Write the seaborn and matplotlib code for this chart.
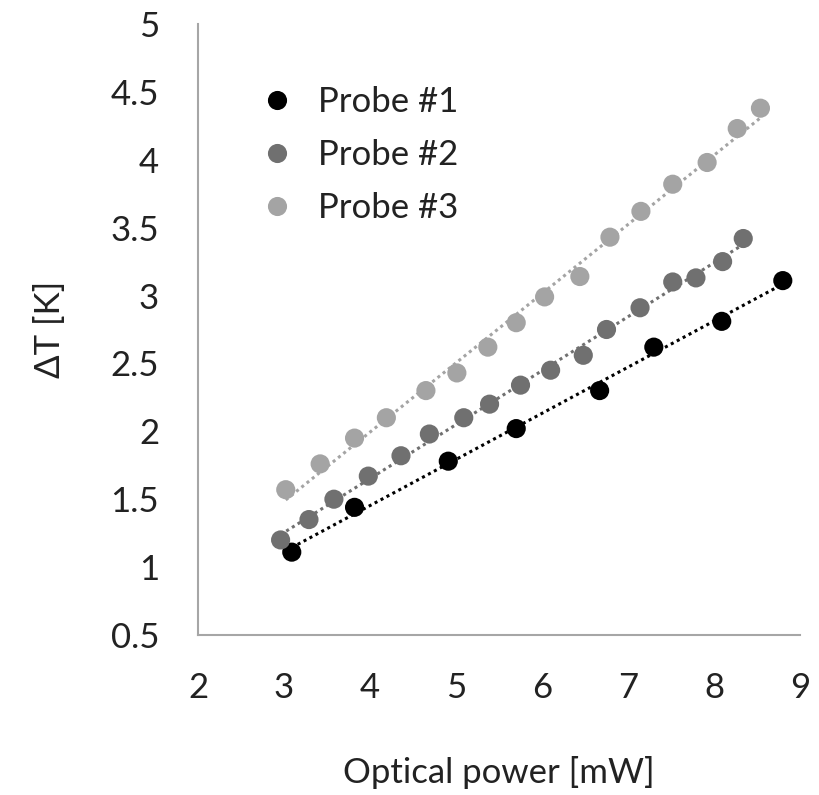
import matplotlib
matplotlib.use("Agg")
import matplotlib.pyplot as plt
import seaborn as sns
import numpy as np
import pandas as pd

probe1_x = [3.09, 3.82, 4.91, 5.70, 6.67, 7.30, 8.09, 8.80]
probe1_y = [1.11, 1.44, 1.78, 2.02, 2.30, 2.62, 2.81, 3.11]

probe2_x = [2.96, 3.29, 3.58, 3.98, 4.36, 4.69, 5.09, 5.39, 5.75, 6.10, 6.48, 6.75, 7.14, 7.52, 7.79, 8.10, 8.34]
probe2_y = [1.20, 1.35, 1.50, 1.67, 1.82, 1.98, 2.10, 2.20, 2.34, 2.45, 2.56, 2.75, 2.91, 3.10, 3.13, 3.25, 3.42]

probe3_x = [3.02, 3.42, 3.82, 4.19, 4.65, 5.01, 5.37, 5.70, 6.03, 6.44, 6.79, 7.15, 7.52, 7.92, 8.27, 8.54]
probe3_y = [1.57, 1.76, 1.95, 2.10, 2.30, 2.43, 2.62, 2.80, 2.99, 3.14, 3.43, 3.62, 3.82, 3.98, 4.23, 4.38]

labels = ["Probe #1", "Probe #2", "Probe #3"]
colors = ["#000000", "#707070", "#a4a4a4"]

x_ticks = [2, 3, 4, 5, 6, 7, 8, 9]
y_ticks = [0.5, 1, 1.5, 2, 2.5, 3, 3.5, 4, 4.5, 5]
y_tick_labels = ["0.5", "1", "1.5", "2", "2.5", "3", "3.5", "4", "4.5", "5"]

df = pd.concat([
    pd.DataFrame({"x": probe1_x, "y": probe1_y, "probe": labels[0]}),
    pd.DataFrame({"x": probe2_x, "y": probe2_y, "probe": labels[1]}),
    pd.DataFrame({"x": probe3_x, "y": probe3_y, "probe": labels[2]}),
])

sns.set_theme(style="white")
plt.rcParams['font.family'] = ['Lato', 'DejaVu Sans']

FS = 25
fig = plt.figure(figsize=(8.19, 7.95), dpi=100)
ax = fig.add_axes([0.2418, 0.2013, 0.7350, 0.7685])

palette = dict(zip(labels, colors))
for lab in labels:
    sub = df[df["probe"] == lab]
    sns.regplot(data=sub, x="x", y="y", ax=ax, scatter=False, ci=None,
                color=palette[lab],
                line_kws=dict(ls=(0, (1, 1.2)), lw=2.2, zorder=1))

sns.scatterplot(data=df, x="x", y="y", hue="probe", palette=palette,
                s=190, edgecolor="none", linewidth=0, ax=ax, zorder=3)

ax.set_xlim(2, 9)
ax.set_ylim(0.5, 5)
ax.set_xticks(x_ticks)
ax.set_xticklabels([str(t) for t in x_ticks])
ax.set_yticks(y_ticks)
ax.set_yticklabels(y_tick_labels)

for s in ["top", "right"]:
    ax.spines[s].set_visible(False)
for s in ["left", "bottom"]:
    ax.spines[s].set_color("#a6a6a6")
    ax.spines[s].set_linewidth(1.5)

ax.tick_params(axis="both", direction="in", length=7, width=1.2,
               color="#a6a6a6", labelsize=FS, labelcolor="#222222")
ax.tick_params(axis="x", pad=27)
ax.tick_params(axis="y", pad=28)

ax.set_xlabel("Optical power [mW]", fontsize=FS, color="#222222", labelpad=37)
ax.set_ylabel("ΔT [K]", fontsize=FS, color="#222222", labelpad=32)

leg = ax.legend(loc="upper left", bbox_to_anchor=(0.102, 0.898), frameon=False,
                fontsize=FS, handlelength=1.0, handletextpad=0.7,
                labelspacing=0.6, borderpad=0, borderaxespad=0,
                markerscale=1.0, labelcolor="#222222")

fig.savefig("out.png", dpi=100)
